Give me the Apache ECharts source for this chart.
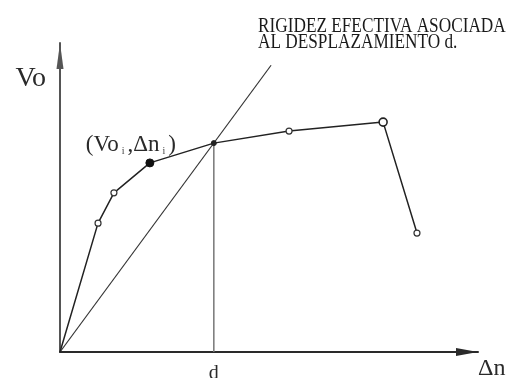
<!DOCTYPE html>
<html>
<head>
<meta charset="utf-8">
<script src="https://cdn.jsdelivr.net/npm/echarts@6/dist/echarts.min.js"></script>
<style>
  html, body { margin: 0; padding: 0; background: #fff; }
  #chart { width: 514px; height: 378px; }
</style>
</head>
<body>
<div id="chart"></div>
<script>
// Capacity curve: shear Vo against displacement Δn
const curveX = [0, 0.91, 1.29, 2.15, 3.68, 5.48, 7.73, 8.54];
const curveY = [0, 4.17, 5.15, 6.12, 6.76, 7.15, 7.44, 3.85];
// Point styles along the curve: 'none', 'open', 'filled', 'dot', 'ring'
const curveMarks = ['none', 'open', 'open', 'filled', 'dot', 'open', 'ring', 'open'];

// Secant (effective) stiffness line through the point at displacement d
const secantX = [0, 5.05];
const secantY = [0, 9.28];

// Displacement d and its tick label
const dValue = 3.68;
const dLabel = 'd';

const xName = 'Δn';
const yName = 'Vo';
const noteText = 'RIGIDEZ EFECTIVA ASOCIADA\nAL DESPLAZAMIENTO d.';

const serif = '"Liberation Serif", "DejaVu Serif", serif';

function markStyle(kind) {
  switch (kind) {
    case 'none':   return { symbolSize: 0 };
    case 'filled': return { symbolSize: 8, itemStyle: { color: '#111', borderColor: '#111', borderWidth: 1 } };
    case 'dot':    return { symbolSize: 5, itemStyle: { color: '#222', borderColor: '#222', borderWidth: 1 } };
    case 'ring':   return { symbolSize: 8, itemStyle: { color: '#fff', borderColor: '#222', borderWidth: 1.6 } };
    default:       return { symbolSize: 6, itemStyle: { color: '#fff', borderColor: '#333', borderWidth: 1.2 } };
  }
}

const curveData = curveX.map((x, i) => {
  const d = Object.assign({ value: [x, curveY[i]] }, markStyle(curveMarks[i]));
  if (curveMarks[i] === 'filled') {
    d.label = {
      show: true,
      position: 'top',
      offset: [-19, 3],
      formatter: '{a|(Vo}{s|i}{a|,}{a|Δn}{s|i}{a|)}',
      rich: {
        a: { fontFamily: serif, fontSize: 23, color: '#2a2a2a', verticalAlign: 'bottom' },
        s: { fontFamily: serif, fontSize: 10, color: '#444', padding: [0, 3, 0, 3], verticalAlign: 'bottom' }
      }
    };
  }
  return d;
});

const chart = echarts.init(document.getElementById('chart'), null, { renderer: 'canvas' });

chart.setOption({
  animation: false,
  backgroundColor: '#ffffff',
  grid: { left: 60, right: 36, top: 43, bottom: 26, containLabel: false, outerBoundsMode: 'none' },
  xAxis: {
    type: 'value',
    min: 0,
    max: 10,
    splitLine: { show: false },
    axisTick: { show: false },
    axisLine: {
      show: true,
      onZero: false,
      symbol: ['none', 'triangle'],
      symbolSize: [8, 22],
      symbolOffset: [0, -11],
      lineStyle: { color: '#2a2a2a', width: 2 }
    },
    axisLabel: {
      show: true,
      customValues: [dValue],
      formatter: () => dLabel,
      margin: 12,
      fontFamily: serif,
      fontSize: 20,
      color: '#2a2a2a'
    },
    name: xName,
    nameLocation: 'end',
    nameGap: 0,
    nameTextStyle: {
      fontFamily: serif,
      fontSize: 24,
      color: '#2a2a2a',
      align: 'left',
      verticalAlign: 'top',
      padding: [5, 0, 0, 0]
    }
  },
  yAxis: {
    type: 'value',
    min: 0,
    max: 10,
    splitLine: { show: false },
    axisTick: { show: false },
    axisLabel: { show: false },
    axisLine: {
      show: true,
      onZero: false,
      symbol: ['none', 'triangle'],
      symbolSize: [7, 26],
      symbolOffset: [0, -13],
      lineStyle: { color: '#555', width: 2 }
    },
    name: yName,
    nameLocation: 'end',
    nameGap: -50,
    nameTextStyle: {
      fontFamily: serif,
      fontSize: 28,
      color: '#2a2a2a',
      align: 'right',
      verticalAlign: 'bottom',
      padding: [0, 14, 0, 0]
    }
  },
  graphic: [
    {
      type: 'text',
      x: 258,
      y: 19,
      scaleX: 0.862,
      style: {
        text: noteText,
        font: '20px ' + serif,
        lineHeight: 16,
        fill: '#1a1a1a',
        textVerticalAlign: 'top'
      }
    }
  ],
  series: [
    {
      name: 'd',
      type: 'line',
      data: [[dValue, 0], [dValue, curveY[curveX.indexOf(dValue)]]],
      symbol: 'none',
      lineStyle: { color: '#777', width: 1.5 },
      z: 1
    },
    {
      name: 'secante',
      type: 'line',
      data: secantX.map((x, i) => [x, secantY[i]]),
      symbol: 'none',
      lineStyle: { color: '#333', width: 1.2 },
      z: 2
    },
    {
      name: 'curva',
      type: 'line',
      data: curveData,
      symbol: 'circle',
      lineStyle: { color: '#222', width: 1.5 },
      z: 3
    }
  ]
});
</script>
</body>
</html>
